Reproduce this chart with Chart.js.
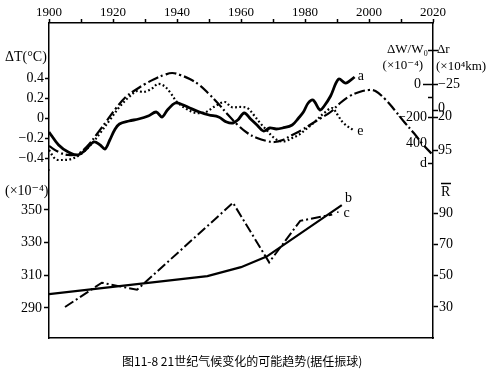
<!DOCTYPE html>
<html>
<head>
<meta charset="utf-8">
<script src="https://cdn.jsdelivr.net/npm/chart.js@4.4.0/dist/chart.umd.min.js"></script>
<style>
body { margin: 0; background: #fff; }
#wrap { position: relative; width: 501px; height: 377px; }
#caption { position: absolute; left: 122px; top: 352px; font: 12px "Noto Sans CJK SC", sans-serif; color: #000; white-space: nowrap; }
</style>
</head>
<body>
<div id="wrap">
<canvas id="chart" width="501" height="377"></canvas>
<div id="caption">图11-8 21世纪气候变化的可能趋势(据任振球)</div>
</div>
<script>
// year ticks (top axis)
var yearTicks = [1900, 1910, 1920, 1930, 1940, 1950, 1960, 1970, 1980, 1990, 2000, 2010, 2020];

// upper panel: temperature anomaly ΔT (°C)
var tTicks = [0.4, 0.2, 0, -0.2, -0.4];
var tTickLabels = ['0.4', '0.2', '0', '\u22120.2', '\u22120.4'];

// curve a - observed ΔT (solid)
var aYears = [1900, 1903, 1906, 1909, 1911, 1914, 1916, 1917.5, 1919, 1920.5, 1922, 1925, 1928, 1931, 1933.5, 1935.3, 1937, 1939.5, 1942, 1944, 1947, 1950, 1953, 1955.5, 1957.5, 1959, 1961, 1963, 1965, 1967, 1969, 1971, 1973, 1976, 1978, 1979.5, 1981, 1982.5, 1984.7, 1986, 1988, 1990.5, 1992.5, 1993.5, 1995.5];
var aValues = [-0.14, -0.27, -0.34, -0.37, -0.33, -0.24, -0.27, -0.31, -0.22, -0.12, -0.06, -0.03, -0.01, 0.02, 0.06, 0.01, 0.08, 0.15, 0.13, 0.10, 0.06, 0.03, 0.01, -0.04, -0.05, -0.02, 0.05, -0.01, -0.07, -0.13, -0.10, -0.11, -0.10, -0.07, 0.00, 0.06, 0.15, 0.18, 0.08, 0.12, 0.22, 0.39, 0.35, 0.36, 0.41];

// curve d - ΔW/W0 (dash-dot)
var dYears = [1900, 1903, 1906, 1909, 1912, 1915, 1918, 1921, 1924, 1927, 1930, 1933, 1936, 1938.5, 1941, 1944, 1947, 1950, 1953, 1956, 1959, 1962, 1965, 1968, 1970.5, 1973, 1976, 1979, 1982, 1985, 1988, 1991, 1994, 1997, 2000, 2002, 2005, 2008, 2011, 2014, 2017, 2020];
var dValues = [-0.28, -0.34, -0.37, -0.36, -0.28, -0.16, -0.03, 0.10, 0.21, 0.28, 0.34, 0.39, 0.43, 0.45, 0.43, 0.39, 0.33, 0.24, 0.14, 0.03, -0.07, -0.15, -0.20, -0.23, -0.24, -0.22, -0.17, -0.12, -0.06, 0.00, 0.06, 0.15, 0.22, 0.26, 0.28, 0.27, 0.19, 0.08, -0.04, -0.15, -0.27, -0.37];

// curve e - Δr (dotted)
var eYears = [1900, 1902, 1904, 1907, 1910, 1913, 1916, 1919, 1922, 1925, 1927.5, 1929.5, 1932, 1934, 1936, 1938, 1940, 1943, 1946, 1949, 1952, 1955, 1957, 1960, 1962, 1964, 1966, 1968, 1970, 1972, 1974, 1976, 1978, 1980, 1983, 1986, 1988.5, 1990, 1992, 1995];
var eValues = [-0.32, -0.41, -0.42, -0.41, -0.36, -0.27, -0.15, -0.02, 0.11, 0.21, 0.27, 0.26, 0.29, 0.34, 0.32, 0.25, 0.16, 0.09, 0.05, 0.06, 0.12, 0.16, 0.11, 0.11, 0.10, 0.03, -0.05, -0.12, -0.19, -0.23, -0.23, -0.20, -0.17, -0.12, -0.04, 0.05, 0.10, 0.04, -0.05, -0.12];

// lower panel: CO2 (×10^-4) and sunspot number R
var co2Ticks = [350, 330, 310, 290];
var rTicks = [90, 70, 50, 30];

// curve b - CO2 (solid)
var bYears = [1900, 1949.5, 1960, 1968, 1991.5];
var bValues = [298.5, 309.5, 315, 321.5, 353];

// curve c - mean sunspot number (dash-dot)
var cYears = [1905, 1916.5, 1927.5, 1957.5, 1968.8, 1978.5, 1988.5];
var cValues = [30, 45.5, 41, 96.5, 58.5, 85, 89];

// right-hand upper scales: ΔW/W0 (inside) and Δr (outside)
var wTickLabels = [[0, '0'], [200, '\u2212200'], [357, '400'], [479, 'd']];
var wTickMarks = [-206, 0, 80, 200, 479];
var rrTickLabels = [[0, '\u221225'], [145, '0'], [195, '20'], [400, '95']];
var rrTickMarks = [-206, 0, 160, 200, 400];

function pts(xs, ys) {
  return xs.map(function (x, i) { return {x: x, y: ys[i]}; });
}

var serif = '"Liberation Serif", "DejaVu Serif", serif';
Chart.defaults.font.family = serif;
Chart.defaults.color = '#000';

var decorations = {
  id: 'decorations',
  afterDraw: function (chart) {
    var ctx = chart.ctx;
    var area = chart.chartArea;
    var sx = chart.scales.x, sT = chart.scales.yT, sB = chart.scales.yB, sR = chart.scales.yR, sW = chart.scales.yW;
    var R = area.right;
    ctx.save();
    ctx.fillStyle = '#000';
    ctx.strokeStyle = '#000';
    ctx.textBaseline = 'middle';

    // left titles
    ctx.font = '14px ' + serif;
    ctx.textAlign = 'left';
    ctx.fillText('\u0394T(\u00B0C)', 5, 57);
    ctx.fillText('(\u00D710\u207B\u2074)', 5, 191);

    // curve labels
    ctx.font = '14px ' + serif;
    ctx.fillText('a', sx.getPixelForValue(1996.5), sT.getPixelForValue(0.42));
    ctx.fillText('e', sx.getPixelForValue(1996.3), sT.getPixelForValue(-0.13));
    ctx.fillText('b', sx.getPixelForValue(1992.5), sB.getPixelForValue(357));
    ctx.fillText('\u00B7 c', sx.getPixelForValue(1989.5), sR.getPixelForValue(89.5));

    // right upper titles
    ctx.font = '13px ' + serif;
    ctx.textAlign = 'right';
    ctx.fillText('\u0394W/W\u2080', R - 5, 50);
    ctx.fillText('(\u00D710\u207B\u2074)', R - 10, 66);
    ctx.textAlign = 'left';
    ctx.fillText('\u0394r', R + 4, 50);
    ctx.fillText('(\u00D710\u2074km)', R + 3, 67);

    // ΔW/W0 ticks (inside) and Δr ticks (outside)
    ctx.lineWidth = 1.5;
    wTickMarks.forEach(function (v) {
      var y = Math.round(sW.getPixelForValue(v)) + 0.5;
      ctx.beginPath(); ctx.moveTo(R - (v === 0 ? 10 : 5), y); ctx.lineTo(R, y); ctx.stroke();
    });
    rrTickMarks.forEach(function (v) {
      var y = Math.round(sW.getPixelForValue(v)) + 0.5;
      ctx.beginPath(); ctx.moveTo(R, y); ctx.lineTo(R + 5, y); ctx.stroke();
    });
    ctx.font = '14px ' + serif;
    ctx.textAlign = 'right';
    wTickLabels.forEach(function (t) {
      ctx.fillText(t[1], R - (t[0] === 0 ? 12 : 6), sW.getPixelForValue(t[0]));
    });
    ctx.textAlign = 'left';
    rrTickLabels.forEach(function (t) {
      ctx.fillText(t[1], R + 5, sW.getPixelForValue(t[0]));
    });

    // R-bar title
    ctx.fillText('R', R + 8, 192);
    ctx.beginPath(); ctx.moveTo(R + 8, 183.5); ctx.lineTo(R + 18, 183.5); ctx.stroke();
    ctx.restore();
  }
};

new Chart(document.getElementById('chart'), {
  type: 'line',
  data: {
    datasets: [
      { label: 'a', data: pts(aYears, aValues), xAxisID: 'x', yAxisID: 'yT', borderColor: '#000', borderWidth: 2.8, tension: 0.35, pointRadius: 0 },
      { label: 'd', data: pts(dYears, dValues), xAxisID: 'x', yAxisID: 'yT', borderColor: '#000', borderWidth: 2.2, borderDash: [11, 3, 2, 3], tension: 0.4, pointRadius: 0 },
      { label: 'e', data: pts(eYears, eValues), xAxisID: 'x', yAxisID: 'yT', borderColor: '#000', borderWidth: 2.2, borderDash: [1.8, 2.4], tension: 0.35, pointRadius: 0 },
      { label: 'b', data: pts(bYears, bValues), xAxisID: 'x', yAxisID: 'yB', borderColor: '#000', borderWidth: 2.2, tension: 0, pointRadius: 0 },
      { label: 'c', data: pts(cYears, cValues), xAxisID: 'x', yAxisID: 'yR', borderColor: '#000', borderWidth: 2, borderDash: [10, 3, 2, 3], tension: 0, pointRadius: 0 }
    ]
  },
  options: {
    responsive: false,
    animation: false,
    devicePixelRatio: 1,
    layout: { padding: { top: 0, left: 0, right: 0, bottom: 39 } },
    plugins: { legend: { display: false }, tooltip: { enabled: false } },
    scales: {
      x: {
        type: 'linear', position: 'top', min: 1900, max: 2020,
        afterBuildTicks: function (s) { s.ticks = yearTicks.map(function (v) { return {value: v}; }); },
        afterFit: function (s) { s.height = 23; },
        ticks: { autoSkip: false, maxRotation: 0, padding: -1, font: { size: 13 },
          callback: function (v) { return v % 20 === 0 ? String(v) : ''; } },
        grid: { drawOnChartArea: false, tickLength: 4, tickWidth: 1.5, color: '#000' },
        border: { color: '#000', width: 1.5 }
      },
      xb: {
        type: 'linear', position: 'bottom', min: 1900, max: 2020,
        afterFit: function (s) { s.height = 0; },
        ticks: { display: false },
        grid: { drawOnChartArea: false, drawTicks: false },
        border: { color: '#000', width: 1.5 }
      },
      // left axes are stacked; the later one is placed on top
      yB: {
        type: 'linear', position: 'left', stack: 'left', stackWeight: 168,
        min: 271.63, max: 374.49,
        afterBuildTicks: function (s) { s.ticks = co2Ticks.map(function (v) { return {value: v}; }); },
        afterFit: function (s) { s.width = 49; },
        ticks: { autoSkip: false, padding: 2, font: { size: 14 } },
        grid: { drawOnChartArea: false, tickLength: 5, tickWidth: 1.5, color: '#000' },
        border: { color: '#000', width: 1.5 }
      },
      yT: {
        type: 'linear', position: 'left', stack: 'left', stackWeight: 147,
        min: -0.52, max: 0.95,
        afterBuildTicks: function (s) { s.ticks = tTicks.map(function (v) { return {value: v}; }); },
        afterFit: function (s) { s.width = 49; },
        ticks: { autoSkip: false, padding: 1, font: { size: 14 },
          callback: function (v) { return tTickLabels[tTicks.indexOf(v)]; } },
        grid: { drawOnChartArea: false, tickLength: 4, tickWidth: 1.5, color: '#000' },
        border: { color: '#000', width: 1.5 }
      },
      yR: {
        type: 'linear', position: 'right', min: 10.21, max: 211.3,
        afterBuildTicks: function (s) { s.ticks = rTicks.map(function (v) { return {value: v}; }); },
        afterFit: function (s) { s.width = 68; },
        ticks: { autoSkip: false, padding: 1, font: { size: 14 } },
        grid: { drawOnChartArea: false, tickLength: 5, tickWidth: 1.5, color: '#000' },
        border: { color: '#000', width: 1.5 }
      },
      yW: {
        type: 'linear', display: false, reverse: true, min: -369.7, max: 1539.4
      }
    }
  },
  plugins: [decorations]
});
</script>
</body>
</html>
